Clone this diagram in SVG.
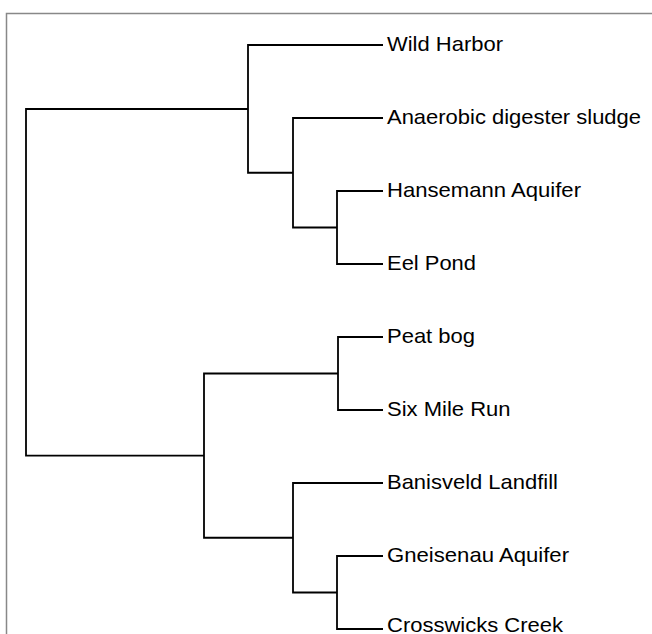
<svg xmlns="http://www.w3.org/2000/svg" width="652" height="634" viewBox="0 0 652 634">
<style>
.frame{fill:none;stroke:#888;stroke-width:1.5}
.edge{fill:none;stroke:#000;stroke-width:1.8;stroke-linejoin:miter}
.lbl{font-family:"Liberation Sans",Arial,sans-serif;font-size:21px;fill:#000}
</style>
<rect width="652" height="634" fill="#fff"/>
<path class="frame" d="M6.5,660 V13.5 H660"/>
<g id="connectors">
<path class="edge" d="M383,45 H248 V172.75 H293"/>
<path class="edge" d="M383,118 H293 V227.5 H337"/>
<path class="edge" d="M383,191 H337 V264 H383"/>
<path class="edge" d="M248,109 H26 V455.6 H204"/>
<path class="edge" d="M383,337 H338 V410 H383"/>
<path class="edge" d="M338,373.5 H204 V537.75 H293"/>
<path class="edge" d="M383,483 H293 V592.5 H337"/>
<path class="edge" d="M383,556 H337 V629 H383"/>
</g>
<g id="n1"><text class="lbl" x="387" y="51" textLength="116" lengthAdjust="spacingAndGlyphs">Wild Harbor</text></g>
<g id="n2"><text class="lbl" x="387" y="124" textLength="254" lengthAdjust="spacingAndGlyphs">Anaerobic digester sludge</text></g>
<g id="n3"><text class="lbl" x="387" y="197" textLength="194" lengthAdjust="spacingAndGlyphs">Hansemann Aquifer</text></g>
<g id="n4"><text class="lbl" x="387" y="270" textLength="89" lengthAdjust="spacingAndGlyphs">Eel Pond</text></g>
<g id="n5"><text class="lbl" x="387" y="342.5" textLength="88" lengthAdjust="spacingAndGlyphs">Peat bog</text></g>
<g id="n6"><text class="lbl" x="387" y="415.5" textLength="123.5" lengthAdjust="spacingAndGlyphs">Six Mile Run</text></g>
<g id="n7"><text class="lbl" x="387" y="488.5" textLength="171" lengthAdjust="spacingAndGlyphs">Banisveld Landfill</text></g>
<g id="n8"><text class="lbl" x="387" y="561.5" textLength="182" lengthAdjust="spacingAndGlyphs">Gneisenau Aquifer</text></g>
<g id="n9"><text class="lbl" x="387" y="632" textLength="176" lengthAdjust="spacingAndGlyphs">Crosswicks Creek</text></g>
</svg>
